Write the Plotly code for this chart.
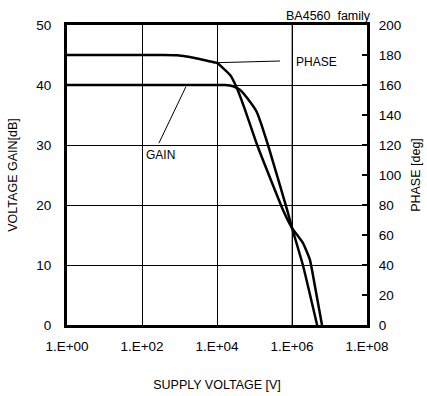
import plotly.graph_objects as go

# Data
gain_logf = [0.0, 2.0, 3.5, 4.0, 4.21, 4.43, 4.61, 4.88, 5.06, 5.19, 5.36, 5.87, 6.0, 6.29, 6.67]
gain_db = [40.0, 40.0, 40.0, 40.0, 40.0, 39.8, 39.2, 37.2, 35.5, 33.3, 30.0, 19.2, 16.2, 10.0, 0.0]

phase_logf = [0.0, 2.0, 2.6, 2.93, 3.28, 3.89, 4.0, 4.35, 4.53, 4.75, 5.07, 5.76, 6.0, 6.29, 6.48, 6.63, 6.8]
phase_deg = [180.0, 180.0, 180.0, 179.8, 178.7, 175.3, 174.7, 166.7, 158.0, 143.3, 120.0, 76.7, 64.7, 54.7, 43.3, 23.3, 0.0]

x_tickvals = [1, 1e2, 1e4, 1e6, 1e8]
x_ticktext = ["1.E+00", "1.E+02", "1.E+04", "1.E+06", "1.E+08"]

gain_f = [10 ** v for v in gain_logf]
phase_f = [10 ** v for v in phase_logf]

FONT = "Liberation Sans, Arial, sans-serif"

fig = go.Figure()
fig.add_trace(go.Scatter(x=gain_f, y=gain_db, mode="lines",
                         line=dict(color="black", width=2.5, shape="spline", smoothing=0.4),
                         yaxis="y", showlegend=False, hoverinfo="skip"))
fig.add_trace(go.Scatter(x=phase_f, y=phase_deg, mode="lines",
                         line=dict(color="black", width=2.5, shape="spline", smoothing=0.4),
                         yaxis="y2", showlegend=False, hoverinfo="skip"))

fig.update_layout(
    width=427, height=396,
    margin=dict(l=67, r=60, t=25, b=71, autoexpand=False),
    paper_bgcolor="white", plot_bgcolor="white",
    font=dict(family=FONT, size=13.5, color="black"),
    xaxis=dict(type="log", range=[0, 8], tickvals=x_tickvals, ticktext=x_ticktext,
               showgrid=True, gridcolor="black", gridwidth=1,
               showline=True, linecolor="black", linewidth=3, mirror=True,
               ticks="inside", ticklen=4, tickcolor="black",
               ticklabelstandoff=7,
               title=dict(text="SUPPLY VOLTAGE [V]", font=dict(size=12.5), standoff=28),
               zeroline=False),
    yaxis=dict(range=[0, 50], dtick=10, showgrid=True, gridcolor="black", gridwidth=1,
               showline=True, linecolor="black", linewidth=3,
               ticks="inside", ticklen=4, tickcolor="black",
               ticklabelstandoff=10,
               title=dict(text="VOLTAGE GAIN[dB]", font=dict(size=12.5), standoff=16),
               zeroline=False),
    yaxis2=dict(range=[0, 200], dtick=20, overlaying="y", side="right", showgrid=False,
                showline=True, linecolor="black", linewidth=3,
                ticks="inside", ticklen=5, tickcolor="black", tickwidth=2,
                ticklabelstandoff=6,
                title=dict(text="PHASE [deg]", font=dict(size=12.5), standoff=12),
                zeroline=False),
    shapes=[
        dict(type="line", xref="x", yref="paper", x0=1e6, x1=1e6, y0=0, y1=1,
             line=dict(color="#888888", width=1.5), layer="below"),
        dict(type="line", xref="x", yref="y", x0=10 ** 3.89, y0=43.7, x1=10 ** 5.68, y1=44.0,
             line=dict(color="black", width=1)),
        dict(type="line", xref="x", yref="y", x0=10 ** 3.17, y0=39.7, x1=10 ** 2.45, y1=30.3,
             line=dict(color="black", width=1)),
    ],
    annotations=[
        dict(text="PHASE", x=6.06, y=43.8, xref="x", yref="y", showarrow=False,
             xanchor="left", yanchor="middle", font=dict(size=12)),
        dict(text="GAIN", x=2.05, y=28.3, xref="x", yref="y", showarrow=False,
             xanchor="left", yanchor="middle", font=dict(size=12)),
        dict(text="BA4560  family", x=1.02, y=1.0, xref="paper", yref="paper", showarrow=False,
             xanchor="right", yanchor="bottom", yshift=0, font=dict(size=12.5)),
    ],
)

fig.write_html("out.html",
               config={"displayModeBar": False},
               post_script="document.body.style.margin='0';document.body.style.overflow='hidden';")
